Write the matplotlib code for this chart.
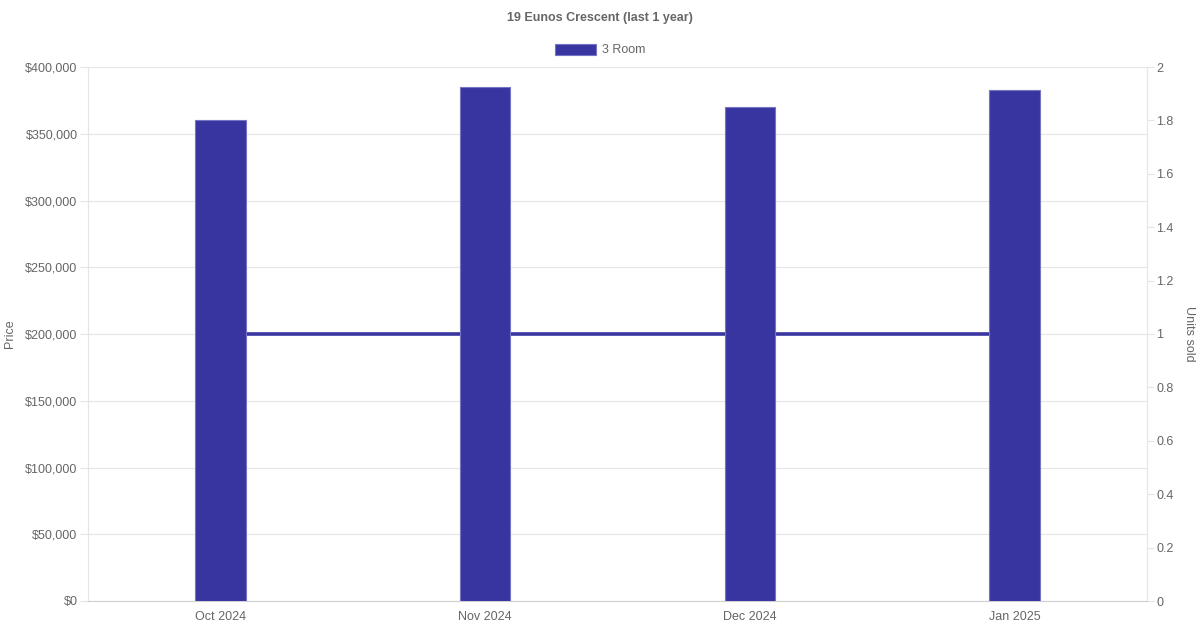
import matplotlib
matplotlib.use("Agg")
import matplotlib.pyplot as plt
from matplotlib.patches import Patch
from matplotlib.ticker import FuncFormatter, MultipleLocator

months = ["Oct 2024", "Nov 2024", "Dec 2024", "Jan 2025"]
prices = [360000, 385000, 370000, 383000]
units_sold = [1, 1, 1, 1]
series_name = "3 Room"
title = "19 Eunos Crescent (last 1 year)"

bar_color = "#3835A0"
edge_color = "#7674c4"
text_color = "#666666"
grid_color = "#e5e5e5"
axis_color = "#cfcfcf"

plt.rcParams['font.family'] = ['Liberation Sans', 'DejaVu Sans']

fig = plt.figure(figsize=(12, 6.3), dpi=100)
ax = fig.add_axes([88/1200, 1 - 601/630, (1147-88)/1200, (601-67)/630])
ax2 = ax.twinx()
ax.set_zorder(ax2.get_zorder() + 1)
ax.patch.set_visible(False)

ax.set_xlim(-0.5, len(months) - 0.5)
ax.set_ylim(0, 400000)
ax2.set_ylim(0, 2)

x = list(range(len(months)))
ax.bar(x, prices, width=0.19, color=bar_color, edgecolor=edge_color, linewidth=0.8, zorder=3)
# units sold line uses the right-hand (units) scale, drawn beneath the bars
ax.plot(x, units_sold, color=bar_color, linewidth=2.6, zorder=2, solid_capstyle='butt',
        transform=ax2.transData)

ax.yaxis.set_major_locator(MultipleLocator(50000))
ax2.yaxis.set_major_locator(MultipleLocator(0.2))
ax.yaxis.set_major_formatter(FuncFormatter(lambda v, p: "${:,.0f}".format(v)))
ax2.yaxis.set_major_formatter(FuncFormatter(lambda v, p: "{:g}".format(round(v, 1))))

ax.set_xticks(x)
ax.set_xticklabels(months)
ax.grid(axis='y', color=grid_color, linewidth=0.8, zorder=0)
ax.set_axisbelow(True)

for a in (ax, ax2):
    for s in a.spines.values():
        s.set_visible(False)
ax.spines['bottom'].set_visible(True)
ax.spines['bottom'].set_color(axis_color)
ax.spines['left'].set_visible(True)
ax.spines['left'].set_color(grid_color)
ax2.spines['right'].set_visible(True)
ax2.spines['right'].set_color(grid_color)

ax.tick_params(axis='x', length=0, pad=7, labelsize=9, labelcolor=text_color)
ax.tick_params(axis='y', length=6, width=0.8, color=grid_color, pad=1.5, labelsize=9, labelcolor=text_color)
ax2.tick_params(axis='y', length=5, width=0.8, color=grid_color, pad=1.5, labelsize=9, labelcolor=text_color)

fig.text(10/1200, 1 - 334/630, "Price", rotation=90, ha='center', va='center', fontsize=9, color=text_color)
fig.text(1189/1200, 1 - 334/630, "Units sold", rotation=270, ha='center', va='center', fontsize=9, color=text_color)
fig.text(600/1200, 1 - 18/630, title, ha='center', va='center', fontsize=9, fontweight='bold', color=text_color)

handle = Patch(facecolor=bar_color, edgecolor=edge_color, linewidth=0.8)
fig.legend([handle], [series_name], loc='center', bbox_to_anchor=(600/1200, 1 - 50/630),
           frameon=False, fontsize=9, labelcolor=text_color, handlelength=3.3, handleheight=1.0,
           handletextpad=0.5)

fig.savefig("out.png", dpi=100)
